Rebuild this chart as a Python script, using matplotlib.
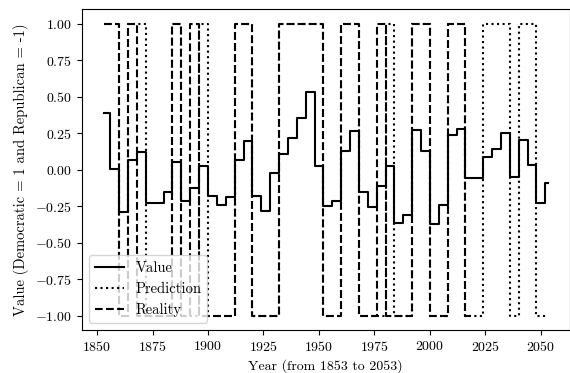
import numpy as np
import matplotlib
matplotlib.use("Agg")
import matplotlib.pyplot as plt

# Fuente tipo LaTeX (Computer Modern)
plt.rcParams['font.family'] = 'serif'
plt.rcParams['font.serif'] = ['cmr10']
plt.rcParams['mathtext.fontset'] = 'cm'
plt.rcParams['axes.formatter.use_mathtext'] = True
plt.rcParams['font.size'] = 10

# Inicio de cada mandato (cada 4 años)
terms = list(range(1853, 2054, 4))

# Valor del modelo por mandato
value = [0.385, 0.007, -0.29, 0.062, 0.12, -0.23, -0.23, -0.153, 0.053, -0.218,
         -0.126, 0.023, -0.18, -0.245, -0.19, 0.062, 0.195, -0.18, -0.286, -0.023,
         0.108, 0.218, 0.35, 0.534, 0.023, -0.25, -0.213, 0.13, 0.264, -0.156,
         -0.26, -0.115, 0.023, -0.367, -0.31, 0.268, 0.13, -0.373, -0.24, 0.236,
         0.275, -0.057, -0.057, 0.085, 0.142, 0.252, -0.053, 0.2, 0.034, -0.229,
         -0.092]

# Prediccion por mandato (1 = demócrata, -1 = republicano)
prediction = [1, 1, -1, 1, 1, -1, -1, -1, 1, -1,
              -1, 1, -1, -1, -1, 1, 1, -1, -1, -1,
              1, 1, 1, 1, 1, -1, -1, 1, 1, -1,
              -1, -1, 1, -1, -1, 1, 1, -1, -1, 1,
              1, -1, -1, 1, 1, 1, -1, 1, 1, -1,
              -1]

# Realidad por mandato (1853 a 2017)
reality = [1, 1, -1, 1, -1, -1, -1, -1, 1, -1,
           1, -1, -1, -1, -1, 1, 1, -1, -1, -1,
           1, 1, 1, 1, 1, -1, -1, 1, 1, -1,
           -1, 1, -1, -1, -1, 1, 1, -1, -1, 1,
           1, -1]

# Pasar de mandatos a años
years = np.arange(terms[0], terms[-1] + 1)
value_y = np.append(np.repeat(value[:-1], 4), value[-1])
pred_y = np.append(np.repeat(prediction[:-1], 4), prediction[-1])
real_y = np.repeat(reality, 4)
years_real = years[:len(real_y)]

fig = plt.figure(figsize=(5.7, 3.73), dpi=100)
ax = fig.add_subplot(111)
fig.subplots_adjust(left=0.143, right=0.9995, bottom=0.115, top=0.976)

ax.step(years, value_y, color='black', linestyle='-', label='Value')
ax.step(years, pred_y, color='black', linestyle=':', label='Prediction')
ax.step(years_real, real_y, color='black', linestyle='--', label='Reality')

ax.set_xlabel('Year (from 1853 to 2053)')
ax.set_ylabel('Value (Democratic = 1 and Republican = -1)', fontsize=10.5)
ax.legend(loc='lower left', fontsize=10.5)

plt.savefig('out.png', dpi=100)
